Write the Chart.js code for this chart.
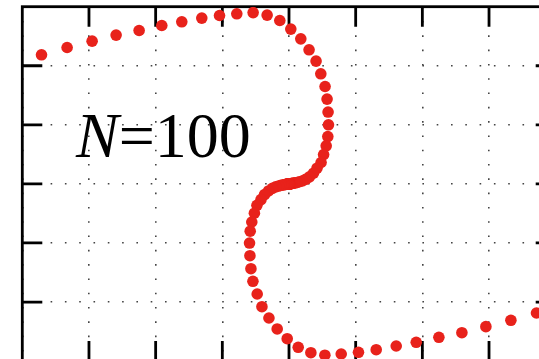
<!DOCTYPE html>
<html>
<head>
<meta charset="utf-8">
<script src="https://cdn.jsdelivr.net/npm/chart.js@4/dist/chart.umd.min.js"></script>
<style>
  html, body { margin: 0; padding: 0; background: #fff; overflow: hidden; }
  #wrap { position: relative; width: 600px; height: 400px; }
  #label {
    position: absolute; left: 76px; top: 104px;
    font-family: "Liberation Serif", "DejaVu Serif", "Times New Roman", Times, serif;
    font-size: 64px; line-height: 64px; color: #000; white-space: nowrap;
  }
</style>
</head>
<body>
<div id="wrap">
  <canvas id="chart"></canvas>
  <div id="label"><i>N</i>=100</div>
</div>
<script>
// curve points, in order along the curve
const xs = [-3.712, -3.328, -2.953, -2.593, -2.248, -1.908, -1.608, -1.308, -1.042, -0.783,
  -0.538, -0.328, -0.138, 0.027, 0.177, 0.301, 0.406, 0.477, 0.541, 0.571,
  0.586, 0.592, 0.582, 0.558, 0.519, 0.481, 0.420, 0.367, 0.307, 0.250,
  0.199, 0.156, 0.121, 0.093, 0.073, 0.058, 0.046, 0.037, 0.030, 0.024,
  0.019, 0.016, 0.013, 0.010, 0.009, 0.007, 0.006, 0.005, 0.004, 0.003,
  -0.003, -0.004, -0.005, -0.006, -0.007, -0.009, -0.010, -0.013, -0.016, -0.019,
  -0.024, -0.030, -0.037, -0.046, -0.058, -0.073, -0.093, -0.121, -0.156, -0.199,
  -0.250, -0.307, -0.367, -0.420, -0.481, -0.519, -0.558, -0.582, -0.592, -0.586,
  -0.571, -0.541, -0.477, -0.406, -0.301, -0.177, -0.027, 0.138, 0.328, 0.538,
  0.783, 1.042, 1.308, 1.608, 1.908, 2.248, 2.593, 2.953, 3.328, 3.712]
const ys = [2.186, 2.309, 2.417, 2.519, 2.597, 2.682, 2.744, 2.807, 2.851, 2.880,
  2.900, 2.858, 2.766, 2.621, 2.456, 2.270, 2.079, 1.864, 1.649, 1.436,
  1.216, 1.001, 0.801, 0.645, 0.496, 0.362, 0.266, 0.181, 0.119, 0.076,
  0.049, 0.036, 0.024, 0.019, 0.014, 0.010, 0.008, 0.007, 0.005, 0.003,
  0.003, 0.002, 0.002, 0.001, 0.001, 0.001, 0.001, 0, 0, 0,
  0, 0, 0, -0.001, -0.001, -0.001, -0.001, -0.002, -0.002, -0.003,
  -0.003, -0.005, -0.007, -0.008, -0.010, -0.014, -0.019, -0.024, -0.036, -0.049,
  -0.076, -0.119, -0.181, -0.266, -0.362, -0.496, -0.645, -0.801, -1.001, -1.216,
  -1.436, -1.649, -1.864, -2.079, -2.270, -2.456, -2.621, -2.766, -2.858, -2.900,
  -2.880, -2.851, -2.807, -2.744, -2.682, -2.597, -2.519, -2.417, -2.309, -2.186]

const xRange = [-4, 4]
const yRange = [-3, 3]

// frame around the plot plus short inward ticks on all four sides
const framePlugin = {
  id: 'frame',
  beforeDatasetsDraw(chart) {
    const {ctx, chartArea: a, scales} = chart
    const len = 20
    ctx.save()
    ctx.strokeStyle = '#000'
    ctx.lineWidth = 2.8
    ctx.strokeRect(a.left, a.top, a.right - a.left, a.bottom - a.top)
    ctx.beginPath()
    for (let v = xRange[0] + 1; v < xRange[1]; v++) {
      const px = scales.x.getPixelForValue(v)
      ctx.moveTo(px, a.top); ctx.lineTo(px, a.top + len)
      ctx.moveTo(px, a.bottom); ctx.lineTo(px, a.bottom - len)
    }
    for (let v = yRange[0] + 1; v < yRange[1]; v++) {
      const py = scales.y.getPixelForValue(v)
      ctx.moveTo(a.left, py); ctx.lineTo(a.left + len, py)
      ctx.moveTo(a.right, py); ctx.lineTo(a.right - len, py)
    }
    ctx.stroke()
    ctx.restore()
  }
}

const gridOpts = {color: '#444', lineWidth: 1.6, drawTicks: false}
const borderOpts = {display: false, dash: [1.6, 12.7]}

new Chart(document.getElementById('chart'), {
  type: 'scatter',
  data: {
    datasets: [{
      data: xs.map((x, i) => ({x: x, y: ys[i]})),
      backgroundColor: '#E8221B',
      borderWidth: 0,
      pointRadius: 5.8,
      pointHoverRadius: 5.8
    }]
  },
  options: {
    responsive: true,
    maintainAspectRatio: false,
    animation: false,
    layout: {padding: {left: 22.3, top: 6.7, right: 44.3, bottom: 38.9}},
    plugins: {legend: {display: false}, tooltip: {enabled: false}},
    scales: {
      x: {
        type: 'linear', min: xRange[0], max: xRange[1],
        ticks: {display: false, stepSize: 1},
        grid: gridOpts, border: borderOpts
      },
      y: {
        type: 'linear', min: yRange[0], max: yRange[1],
        ticks: {display: false, stepSize: 1},
        grid: gridOpts, border: borderOpts
      }
    }
  },
  plugins: [framePlugin]
})
</script>
</body>
</html>
